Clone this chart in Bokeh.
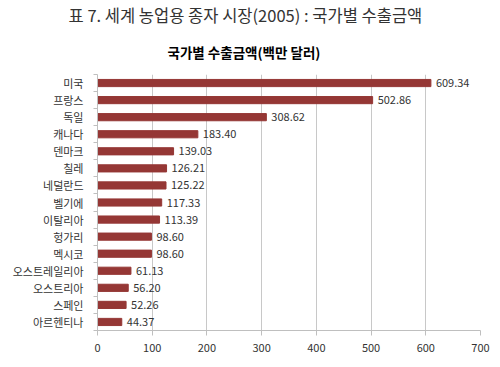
from bokeh.plotting import figure
from bokeh.models import Range1d, FixedTicker, Title, ColumnDataSource
from bokeh.core.properties import value
from bokeh.embed import file_html
from bokeh.resources import INLINE

countries = ["미국", "프랑스", "독일", "캐나다", "덴마크", "칠레", "네덜란드", "벨기에",
             "이탈리아", "헝가리", "멕시코", "오스트레일리아", "오스트리아", "스페인", "아르헨티나"]
values = [609.34, 502.86, 308.62, 183.40, 139.03, 126.21, 125.22, 117.33,
          113.39, 98.60, 98.60, 61.13, 56.20, 52.26, 44.37]
x_ticks = [0, 100, 200, 300, 400, 500, 600, 700]
main_title = "표 7. 세계 농업용 종자 시장(2005) : 국가별 수출금액"
chart_title = "국가별 수출금액(백만 달러)"

FONT = "Noto Sans CJK KR"
n = len(countries)
pos = [i + 0.5 for i in range(n)]

src = ColumnDataSource(dict(y=pos, v=values, lbl=["%.2f" % v for v in values]))

p = figure(width=500, height=367, output_backend="svg", toolbar_location=None,
           x_range=Range1d(0, 700), y_range=Range1d(n, 0),
           min_border_left=97, min_border_right=20, min_border_top=74, min_border_bottom=37)
p.outline_line_color = None
p.background_fill_color = "white"
p.border_fill_color = "white"

p.hbar(y="y", right="v", left=0, height=0.42, source=src, color="#953735")
p.text(x="v", y="y", text="lbl", source=src, x_offset=5, text_baseline="middle",
       text_font=value(FONT), text_font_size="11px", text_color="#333333")

# x axis
p.xaxis.ticker = FixedTicker(ticks=x_ticks)
p.xaxis.axis_line_color = "#bfbfbf"
p.xaxis.major_tick_line_color = "#bfbfbf"
p.xaxis.major_tick_out = 5
p.xaxis.major_tick_in = 0
p.xaxis.minor_tick_line_color = None
p.xaxis.major_label_standoff = 8
p.xaxis.major_label_text_font = FONT
p.xaxis.major_label_text_font_size = "11px"
p.xaxis.major_label_text_color = "#333333"

# y axis
p.yaxis.ticker = FixedTicker(ticks=pos, minor_ticks=list(range(n + 1)))
p.yaxis.major_label_overrides = {p_: c for p_, c in zip(pos, countries)}
p.yaxis.axis_line_color = "#bfbfbf"
p.yaxis.major_tick_line_color = None
p.yaxis.major_tick_out = 0
p.yaxis.major_tick_in = 0
p.yaxis.minor_tick_line_color = "#bfbfbf"
p.yaxis.minor_tick_out = 4
p.yaxis.minor_tick_in = 0
p.yaxis.major_label_standoff = 10
p.yaxis.major_label_text_font = FONT
p.yaxis.major_label_text_font_size = "11px"
p.yaxis.major_label_text_color = "#333333"

p.xgrid.ticker = FixedTicker(ticks=x_ticks[1:])
p.xgrid.grid_line_color = "#c8c8c8"
p.ygrid.grid_line_color = None

# main title (outermost)
p.title.text = main_title
p.title.align = "left"
p.title.offset = -29
p.title.text_font = FONT
p.title.text_font_size = "16.5px"
p.title.text_font_style = "normal"
p.title.text_color = "#333333"
p.title.standoff = 0

# chart title (closest to the frame)
p.add_layout(Title(text=chart_title, align="left", offset=70, text_font=FONT,
                   text_font_size="13.5px", text_font_style="bold", text_color="#000000",
                   standoff=26), "above")

open("out.html", "w").write(file_html(p, INLINE))
